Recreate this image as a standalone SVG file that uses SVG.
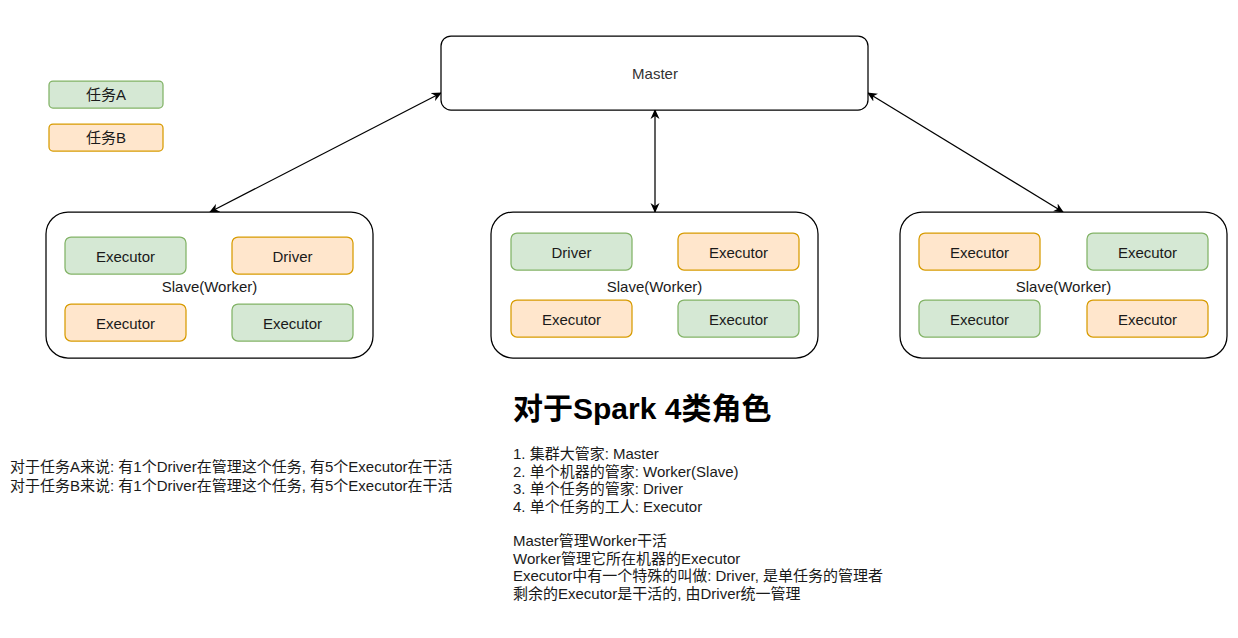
<svg xmlns="http://www.w3.org/2000/svg" width="1238" height="638" viewBox="0 0 1238 638">
<defs>
<style>
text{font-family:"Liberation Sans",Arial,"Noto Sans CJK SC",sans-serif;font-size:15px;fill:#1a1a1a}
.c{text-anchor:middle}
.box{fill:#fff;stroke:#000;stroke-width:1.25}
.g{fill:#d5e8d4;stroke:#82b366;stroke-width:1.25}
.o{fill:#ffe6cc;stroke:#d79b00;stroke-width:1.25}
.edge{stroke:#000;stroke-width:1.25;fill:none;marker-start:url(#ah);marker-end:url(#ah)}
.h{font-size:30px;font-weight:bold;fill:#000}
</style>
<marker id="ah" viewBox="0 0 10 10" refX="9" refY="5" markerWidth="10" markerHeight="10" markerUnits="userSpaceOnUse" orient="auto-start-reverse">
<path d="M0,0.5 L10,5 L0,9.5 L3,5 z" fill="#000"/>
</marker>
</defs>
<rect width="1238" height="638" fill="#fff"/>
<g id="connectors">
<line class="edge" x1="441" y1="93" x2="210" y2="212"/>
<line class="edge" x1="655" y1="110" x2="655" y2="212"/>
<line class="edge" x1="868" y1="93" x2="1063" y2="212"/>
</g>
<g id="master">
<rect class="box" x="441" y="36" width="427" height="74" rx="10"/>
<text class="c" x="655" y="79" style="fill:#333">Master</text>
</g>
<g id="legendA">
<rect class="g" x="49" y="81" width="114" height="27" rx="4"/>
<text class="c" x="106" y="100">任务A</text>
</g>
<g id="legendB">
<rect class="o" x="49" y="124" width="114" height="27" rx="4"/>
<text class="c" x="106" y="143">任务B</text>
</g>
<g id="worker1">
<rect class="box" x="46" y="212" width="327" height="146" rx="22"/>
<text class="c" x="209.5" y="292">Slave(Worker)</text>
<rect class="g" x="65" y="237" width="121" height="37" rx="6"/>
<text class="c" x="125.5" y="262">Executor</text>
<rect class="o" x="232" y="237" width="121" height="37" rx="6"/>
<text class="c" x="292.5" y="262">Driver</text>
<rect class="o" x="65" y="304" width="121" height="37" rx="6"/>
<text class="c" x="125.5" y="329">Executor</text>
<rect class="g" x="232" y="304" width="121" height="37" rx="6"/>
<text class="c" x="292.5" y="329">Executor</text>
</g>
<g id="worker2">
<rect class="box" x="491" y="212" width="327" height="146" rx="22"/>
<text class="c" x="654.5" y="292">Slave(Worker)</text>
<rect class="g" x="511" y="233" width="121" height="37" rx="6"/>
<text class="c" x="571.5" y="258">Driver</text>
<rect class="o" x="678" y="233" width="121" height="37" rx="6"/>
<text class="c" x="738.5" y="258">Executor</text>
<rect class="o" x="511" y="300" width="121" height="37" rx="6"/>
<text class="c" x="571.5" y="325">Executor</text>
<rect class="g" x="678" y="300" width="121" height="37" rx="6"/>
<text class="c" x="738.5" y="325">Executor</text>
</g>
<g id="worker3">
<rect class="box" x="900" y="212" width="327" height="146" rx="22"/>
<text class="c" x="1063.5" y="292">Slave(Worker)</text>
<rect class="o" x="919" y="233" width="121" height="37" rx="6"/>
<text class="c" x="979.5" y="258">Executor</text>
<rect class="g" x="1087" y="233" width="121" height="37" rx="6"/>
<text class="c" x="1147.5" y="258">Executor</text>
<rect class="g" x="919" y="300" width="121" height="37" rx="6"/>
<text class="c" x="979.5" y="325">Executor</text>
<rect class="o" x="1087" y="300" width="121" height="37" rx="6"/>
<text class="c" x="1147.5" y="325">Executor</text>
</g>
<g id="note-left">
<text x="10" y="472">对于任务A来说: 有1个Driver在管理这个任务, 有5个Executor在干活</text>
<text x="10" y="491">对于任务B来说: 有1个Driver在管理这个任务, 有5个Executor在干活</text>
</g>
<g id="note-roles">
<text class="h" x="513" y="419">对于Spark 4类角色</text>
<text x="513" y="459">1. 集群大管家: Master</text>
<text x="513" y="477">2. 单个机器的管家: Worker(Slave)</text>
<text x="513" y="494">3. 单个任务的管家: Driver</text>
<text x="513" y="512">4. 单个任务的工人: Executor</text>
<text x="513" y="546">Master管理Worker干活</text>
<text x="513" y="564">Worker管理它所在机器的Executor</text>
<text x="513" y="581">Executor中有一个特殊的叫做: Driver, 是单任务的管理者</text>
<text x="513" y="599">剩余的Executor是干活的, 由Driver统一管理</text>
</g>
</svg>
